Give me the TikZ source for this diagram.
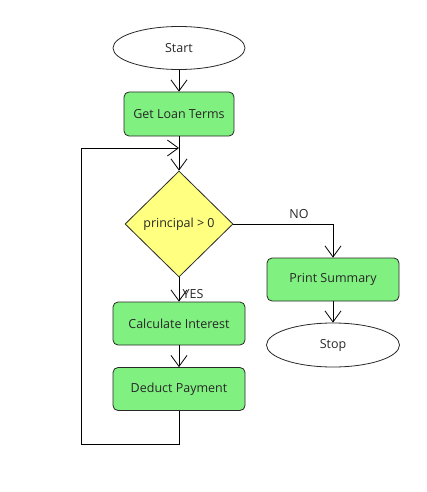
\documentclass[tikz,border=0pt]{standalone}
\usepackage{fontspec}
\setmainfont{Open Sans}
\usetikzlibrary{shapes.geometric,arrows.meta}
\definecolor{boxgreen}{RGB}{128,240,128}
\definecolor{diayellow}{RGB}{255,255,128}
\definecolor{txt}{RGB}{40,40,40}
\definecolor{edge}{RGB}{40,40,40}
\begin{document}
\begin{tikzpicture}[x=1pt,y=-1pt,
  every node/.style={font=\fontsize{12.5}{14}\selectfont, text=txt},
  term/.style={ellipse, draw=edge, line width=0.8pt, fill=white, minimum width=132pt, minimum height=43pt, inner sep=0pt},
  proc/.style={rectangle, rounded corners=5pt, draw=edge, line width=0.8pt, fill=boxgreen, minimum width=132pt, minimum height=43pt, inner sep=0pt},
  dec/.style={diamond, draw=edge, line width=0.8pt, fill=diayellow, minimum width=108pt, minimum height=106pt, inner sep=0pt},
  conn/.style={draw=black, line width=0.8pt, -{Straight Barb[length=11pt,width=16pt,line width=0.8pt]}},
  lbl/.style={font=\fontsize{12.5}{14}\selectfont, text=txt}]
\useasboundingbox (0,0) rectangle (426,492);
\node[term] (start) at (179,48) {Start};
\node[proc, minimum width=110pt, minimum height=44pt] (get) at (179,114) {Get Loan Terms};
\node[dec] (dec) at (179,224) {principal > 0};
\node[proc] (calc) at (179,323.5) {Calculate Interest};
\node[proc] (ded) at (179,389) {Deduct Payment};
\node[proc] (print) at (333,279.5) {Print Summary};
\node[term, minimum width=133pt, minimum height=44pt] (stop) at (333,345) {Stop};
\coordinate (j) at (179,148);
\coordinate (b1) at (179,444);
\coordinate (b2) at (81,444);
\coordinate (b3) at (81,148);
\coordinate (n1) at (333,224);
\draw[conn] (start) -- (get);
\draw[conn] (get) -- (dec.north);
\draw[conn] (ded.south) -- (b1) -- (b2) -- (b3) -- (j);
\draw[conn] (dec.east) -- (n1) -- (print.north);
\draw[conn] (dec.south) -- (calc.north);
\draw[conn] (calc) -- (ded);
\draw[conn] (print) -- (stop);
\node[lbl] (no) at (299,214) {NO};
\node[lbl] (yes) at (193,294) {YES};
\end{tikzpicture}
\end{document}
